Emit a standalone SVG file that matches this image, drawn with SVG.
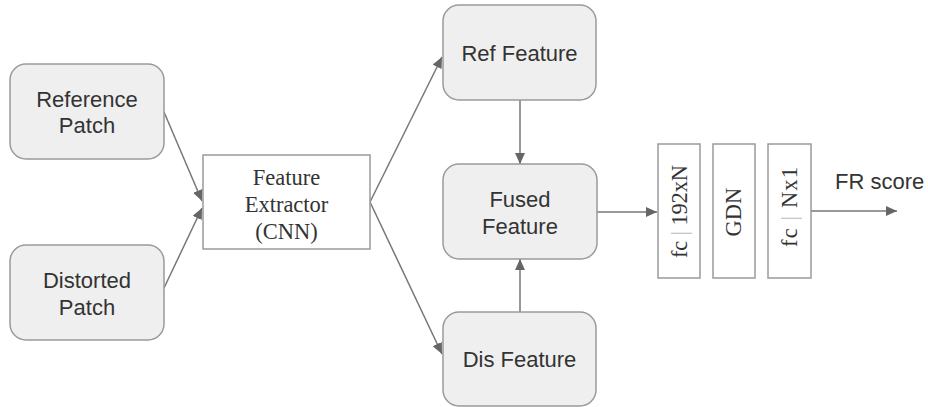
<svg xmlns="http://www.w3.org/2000/svg" width="928" height="407" viewBox="0 0 928 407">
  <defs>
    <marker id="arrow" markerUnits="userSpaceOnUse" markerWidth="12" markerHeight="10" refX="11" refY="5" orient="auto">
      <path d="M0,0 L11,5 L0,10 Z" fill="#666"/>
    </marker>
    <style>
      .block { fill: #efefef; stroke: #9a9a9a; stroke-width: 1.5; }
      .plain { fill: #ffffff; stroke: #9a9a9a; stroke-width: 1.5; }
      .sans { font-family: "Liberation Sans", Arial, sans-serif; font-size: 22px; fill: #333; text-anchor: middle; }
      .serif { font-family: "Liberation Serif", "Times New Roman", serif; font-size: 22.5px; fill: #333; text-anchor: middle; }
      .sep { fill: #bbbbbb; }
      .link { fill: none; stroke: #777; stroke-width: 1.5; marker-end: url(#arrow); }
    </style>
  </defs>
  <rect width="928" height="407" fill="#ffffff"/>

  <g id="connectors">
    <line class="link" x1="164" y1="112" x2="202" y2="201"/>
    <line class="link" x1="164" y1="288" x2="202" y2="208"/>
    <line class="link" x1="370" y1="202" x2="442" y2="57"/>
    <line class="link" x1="370" y1="202" x2="442" y2="354"/>
    <line class="link" x1="520" y1="100" x2="520" y2="164"/>
    <line class="link" x1="520" y1="312" x2="520" y2="259"/>
    <line class="link" x1="597" y1="212" x2="657" y2="212"/>
    <line class="link" x1="811" y1="211" x2="897" y2="211"/>
  </g>

  <g id="reference-patch">
    <rect class="block" x="10" y="64" width="154" height="95" rx="16"/>
    <text class="sans" x="87" y="107">Reference</text>
    <text class="sans" x="87" y="133">Patch</text>
  </g>

  <g id="distorted-patch">
    <rect class="block" x="10" y="245" width="154" height="95" rx="16"/>
    <text class="sans" x="87" y="288">Distorted</text>
    <text class="sans" x="87" y="315">Patch</text>
  </g>

  <g id="feature-extractor">
    <rect class="plain" x="203" y="155" width="167" height="94"/>
    <text class="serif" x="286.5" y="185">Feature</text>
    <text class="serif" x="286.5" y="212">Extractor</text>
    <text class="serif" x="286.5" y="239">(CNN)</text>
  </g>

  <g id="ref-feature">
    <rect class="block" x="443" y="5" width="153" height="95" rx="16"/>
    <text class="sans" x="519.5" y="61">Ref Feature</text>
  </g>

  <g id="fused-feature">
    <rect class="block" x="443" y="164" width="154" height="95" rx="16"/>
    <text class="sans" x="520" y="207">Fused</text>
    <text class="sans" x="520" y="234">Feature</text>
  </g>

  <g id="dis-feature">
    <rect class="block" x="443" y="312" width="153" height="94" rx="16"/>
    <text class="sans" x="519.5" y="367">Dis Feature</text>
  </g>

  <g id="fc-192xN">
    <rect class="plain" x="658" y="144" width="42" height="134"/>
    <text class="serif" transform="translate(687,211.5) rotate(-90)" x="0" y="0" textLength="93" lengthAdjust="spacing">fc <tspan class="sep">|</tspan> 192xN</text>
  </g>

  <g id="gdn">
    <rect class="plain" x="713" y="144" width="42" height="134"/>
    <text class="serif" transform="translate(741,212) rotate(-90)" x="0" y="0">GDN</text>
  </g>

  <g id="fc-Nx1">
    <rect class="plain" x="768" y="144" width="43" height="134"/>
    <text class="serif" transform="translate(797,207) rotate(-90)" x="0" y="0" textLength="80" lengthAdjust="spacing">fc <tspan class="sep">|</tspan> Nx1</text>
  </g>

  <g id="fr-score">
    <text class="sans" x="835" y="189" style="text-anchor: start;">FR score</text>
  </g>
</svg>
